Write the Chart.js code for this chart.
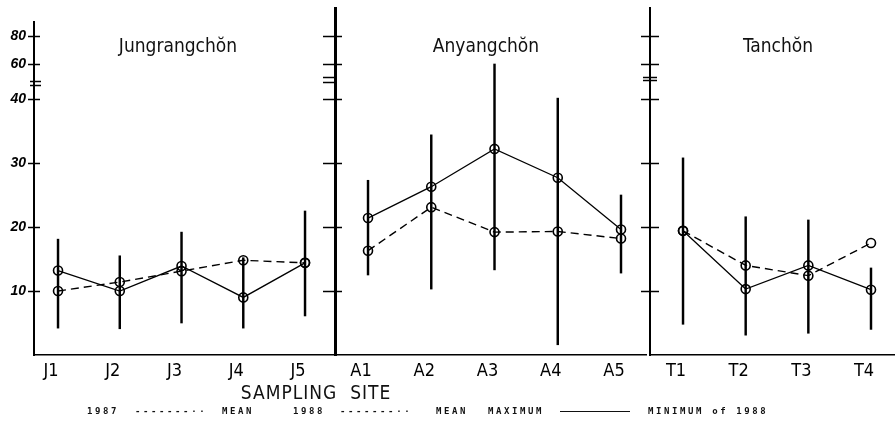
<!DOCTYPE html>
<html>
<head>
<meta charset="utf-8">
<script src="https://cdn.jsdelivr.net/npm/chart.js@4.4.1/dist/chart.umd.min.js"></script>
<style>
  body { margin: 0; background: #fff; }
  #wrap { position: relative; width: 895px; height: 422px; overflow: hidden; background: #fff; }
  #wrap canvas { position: absolute; top: 0; }
  .title, .axisname { position: absolute; white-space: nowrap; color: #111; transform: translateX(-50%);
    font-family: "Liberation Sans Narrow", "DejaVu Sans Condensed", sans-serif; line-height: 1; }
  .title { top: 36px; font-size: 19px; }
  .axisname { top: 383px; font-size: 19px; letter-spacing: 1px; }
  .leg { position: absolute; top: 406px; font: bold 9px "DejaVu Sans Mono", monospace; letter-spacing: 2.6px;
    line-height: 10px; color: #111; white-space: nowrap; }
  .legline { position: absolute; top: 411px; height: 0; border-top: 1.5px solid #111; }
</style>
</head>
<body>
<div id="wrap">
  <canvas id="pJ" width="336" height="385" style="left:0px"></canvas>
  <canvas id="pA" width="347" height="385" style="left:300px"></canvas>
  <canvas id="pT" width="280" height="385" style="left:615px"></canvas>

  <div class="title" style="left:178px">Jungrangchŏn</div>
  <div class="title" style="left:486px">Anyangchŏn</div>
  <div class="title" style="left:778px">Tanchŏn</div>
  <div class="axisname" style="left:316px">SAMPLING&nbsp;&nbsp;SITE</div>

  <span class="leg" style="left:87px">1987</span>
  <span class="leg" style="left:135px">-------··</span>
  <span class="leg" style="left:222px">MEAN</span>
  <span class="leg" style="left:293px">1988</span>
  <span class="leg" style="left:340px">-------··</span>
  <span class="leg" style="left:436px">MEAN</span>
  <span class="leg" style="left:488px">MAXIMUM</span>
  <span class="legline" style="left:560px; width:70px"></span>
  <span class="leg" style="left:648px">MINIMUM of 1988</span>
</div>
<script>
// y axis ticks (scale is broken above 40)
const yTicks = [10, 20, 30, 40, 60, 80];

// Jungrangchon
const sitesJ = ['J1', 'J2', 'J3', 'J4', 'J5'];
const mean1987J = [10.0, 11.4, 13.1, 14.8, 14.4];
const mean1988J = [13.2, 10.0, 13.9, 9.0, 14.4];
const max1988J = [18.1, 15.5, 19.2, 15.2, 22.5];
const min1988J = [4.2, 4.1, 5.0, 4.2, 6.1];

// Anyangchon
const sitesA = ['A1', 'A2', 'A3', 'A4', 'A5'];
const mean1987A = [16.3, 23.1, 19.2, 19.3, 18.2];
const mean1988A = [21.4, 26.3, 32.2, 27.7, 19.6];
const max1988A = [27.3, 34.4, 60, 40.5, 25.0];
const min1988A = [12.5, 10.3, 13.3, 1.6, 12.8];

// Tanchon
const sitesT = ['T1', 'T2', 'T3', 'T4'];
const mean1987T = [19.4, 14.0, 12.4, 17.5];
const mean1988T = [19.4, 10.3, 14.0, 10.2];
const max1988T = [30.8, 21.6, 21.1, 13.6];
const min1988T = [4.8, 3.1, 3.4, 4.0];

// piecewise y mapping: 0-40 linear, 40-60 and 60-80 squeezed
function toDisplay(v) {
    if (v <= 40) return v;
    if (v <= 60) return 40 + (v - 40) * 0.2735;
    return 45.47 + (v - 60) * 0.219;
}
function fromDisplay(d) {
    if (d <= 40) return d;
    if (d <= 45.47) return 40 + (d - 40) / 0.2735;
    return 60 + (d - 45.47) / 0.219;
}

class BrokenScale extends Chart.LinearScale {
    getPixelForValue(value) {
        return super.getPixelForValue(toDisplay(value));
    }
    getValueForPixel(pixel) {
        return fromDisplay(super.getValueForPixel(pixel));
    }
}
BrokenScale.id = 'broken';
BrokenScale.defaults = Chart.LinearScale.defaults;
Chart.register(BrokenScale);

// tick crosses on both sides of the axis + the "=" break mark
const crossTicks = {
    id: 'crossTicks',
    afterDraw(chart, args, opts) {
        const y = chart.scales.y;
        const ctx = chart.ctx;
        const x0 = chart.chartArea.left;
        ctx.save();
        ctx.strokeStyle = '#000';
        ctx.lineWidth = 1.5;
        y.ticks.forEach((t, i) => {
            const py = Math.round(y.getPixelForTick(i)) + 0.5;
            ctx.beginPath();
            ctx.moveTo(x0 - opts.out, py);
            ctx.lineTo(x0 + opts.inside, py);
            ctx.stroke();
        });
        opts.breaks.forEach(v => {
            const py = Math.round(y.getPixelForValue(v)) + 0.5;
            ctx.beginPath();
            ctx.moveTo(x0 - opts.breakOut, py);
            ctx.lineTo(x0 + opts.breakIn, py);
            ctx.stroke();
        });
        ctx.restore();
    }
};

const narrow = '"Liberation Sans Narrow", "DejaVu Sans Condensed", sans-serif';

function makePanel(id, sites, mean87, mean88, maxs, mins, cfg) {
    const pts = arr => arr.map((v, i) => ({ x: i + 1, y: v }));
    const pointStyle = {
        pointRadius: 4.5,
        pointBorderWidth: 1.6,
        pointBorderColor: '#000',
        pointBackgroundColor: 'rgba(255,255,255,0)',
        borderColor: '#000'
    };
    return new Chart(document.getElementById(id), {
        data: {
            datasets: [
                Object.assign({ type: 'line', label: '1988 mean', data: pts(mean88), borderWidth: 1.3, order: 1 }, pointStyle),
                Object.assign({ type: 'line', label: '1987 mean', data: pts(mean87), borderWidth: 1.4, borderDash: [8, 5], order: 2 }, pointStyle),
                {
                    type: 'bar',
                    label: 'range 1988',
                    data: maxs.map((v, i) => ({ x: i + 1, y: [mins[i], v] })),
                    backgroundColor: '#000',
                    barThickness: 1.8,
                    order: 3
                }
            ]
        },
        options: {
            responsive: false,
            animation: false,
            devicePixelRatio: 1,
            layout: { autoPadding: false, padding: { left: 0, right: cfg.padRight, top: cfg.top, bottom: 0 } },
            plugins: {
                legend: { display: false },
                tooltip: { enabled: false },
                crossTicks: cfg.cross
            },
            scales: {
                x: {
                    type: 'linear',
                    offset: false,
                    bounds: 'data',
                    min: cfg.xMin,
                    max: cfg.xMax,
                    afterBuildTicks: s => { s.ticks = sites.map((_, i) => ({ value: i + 1 })); },
                    afterFit: s => { s.height = 30; },
                    grid: { display: false, drawTicks: false },
                    border: { display: true, color: '#000', width: 1.5 },
                    ticks: {
                        autoSkip: false,
                        maxRotation: 0,
                        padding: 6,
                        labelOffset: -7,
                        color: '#000',
                        font: { family: narrow, size: 18 },
                        callback: v => sites[v - 1]
                    }
                },
                y: {
                    type: 'broken',
                    min: 0,
                    max: cfg.yMax,
                    afterBuildTicks: s => { s.ticks = yTicks.map(v => ({ value: v })); },
                    afterFit: s => { s.width = cfg.yWidth; },
                    grid: { display: false, drawTicks: false },
                    border: { display: true, color: '#000', width: cfg.axisW },
                    ticks: {
                        display: cfg.labels,
                        padding: 8,
                        color: '#000',
                        font: { family: '"Liberation Sans", Arial, sans-serif', size: 14, style: 'italic', weight: 'bold' },
                        callback: v => String(v)
                    }
                }
            }
        },
        plugins: [crossTicks]
    });
}

makePanel('pJ', sitesJ, mean1987J, mean1988J, max1988J, min1988J, {
    padRight: 3, top: 22, yMax: 52.03, yWidth: 34, axisW: 2, labels: true,
    xMin: 0.611, xMax: 5.453,
    cross: { out: 6, inside: 6, breaks: [48, 50.5], breakOut: 4, breakIn: 7 }
});
makePanel('pA', sitesA, mean1987A, mean1988A, max1988A, min1988A, {
    padRight: 0, top: 8, yMax: 54.22, yWidth: 35, axisW: 3, labels: false,
    xMin: 0.478, xMax: 5.411,
    cross: { out: 12, inside: 7, breaks: [50, 52.3], breakOut: 12, breakIn: 0 }
});
makePanel('pT', sitesT, mean1987T, mean1988T, max1988T, min1988T, {
    padRight: 0, top: 8, yMax: 54.22, yWidth: 35, axisW: 2, labels: false,
    xMin: 0.473, xMax: 4.383,
    cross: { out: 9, inside: 9, breaks: [50.9, 52.6], breakOut: 7, breakIn: 7 }
});
</script>
</body>
</html>
